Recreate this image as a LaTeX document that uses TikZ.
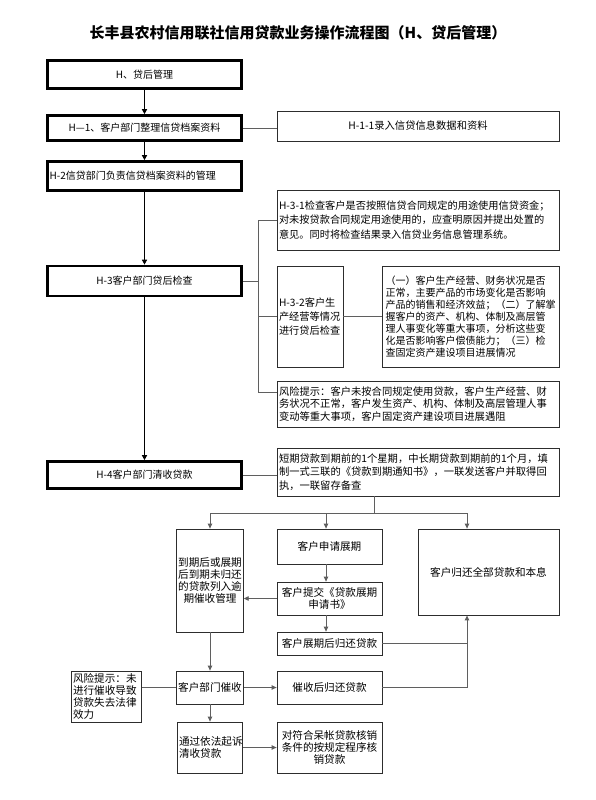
\documentclass[tikz,border=0pt]{standalone}
\usepackage{fontspec}
\setmainfont{Noto Sans CJK SC}
\usetikzlibrary{arrows.meta}
\definecolor{conn}{RGB}{95,95,95}
\definecolor{bord}{RGB}{45,45,45}
\tikzset{
  mainbox/.style={draw=black, line width=2.6pt, minimum width=194pt, inner sep=2pt, font=\fontsize{10}{12}\selectfont},
  thinbox/.style={draw=bord, line width=0.8pt, inner sep=2pt, align=left, font=\fontsize{10.3}{12}\selectfont},
  lowbox/.style={draw=bord, line width=0.8pt, inner sep=1.5pt, align=center, font=\fontsize{10.6}{12.2}\selectfont},
  trunk/.style={line width=1.8pt, -{Triangle[length=5pt,width=5pt]}},
  link/.style={draw=conn, line width=0.9pt},
  arr/.style={link, -{Triangle[length=5pt,width=4.5pt]}},
}
\begin{document}
\begin{tikzpicture}[x=1pt,y=-1pt]
\fill[white] (0,0) rectangle (596,800);
\useasboundingbox (0,0) rectangle (596,800);

\node[font=\bfseries\fontsize{15}{17}\selectfont] (title) at (298,33) {长丰县农村信用联社信用贷款业务操作流程图（H、贷后管理）};

% main column
\node[mainbox, minimum height=28pt] (b1) at (144.5,74.5) {H、贷后管理};
\node[mainbox, minimum height=25pt] (b2) at (144.5,128) {H—1、客户部门整理信贷档案资料};
\node[mainbox, minimum height=29pt, text width=190pt, align=left] (b4) at (144.5,176) {H-2信贷部门负责信贷档案资料的管理};
\node[mainbox, minimum height=30pt] (b6) at (144.5,281) {H-3客户部门贷后检查};
\node[mainbox, minimum height=27pt] (b10) at (144.5,475) {H-4客户部门清收贷款};

% right column
\node[thinbox, minimum width=282pt, minimum height=30pt, align=center] (r1) at (418,126) {H-1-1录入信贷信息数据和资料};
\node[thinbox, text width=278pt, minimum height=60pt, font=\fontsize{10.2}{14.5}\selectfont] (r2) at (418,220) {H-3-1检查客户是否按照信贷合同规定的用途使用信贷资金；\\对未按贷款合同规定用途使用的，应查明原因并提出处置的\\意见。同时将检查结果录入信贷业务信息管理系统。};
\node[thinbox, text width=62pt, minimum height=101pt, font=\fontsize{10.2}{14}\selectfont] (r3) at (310,316.5) {H-3-2客户生\\产经营等情况\\进行贷后检查};
\node[thinbox, text width=173pt, minimum height=101pt, font=\fontsize{10}{11.9}\selectfont] (r4) at (470.5,316.5) {\hspace*{1.5pt}（一）客户生产经营、财务状况是否\\\hspace*{1.5pt}正常，主要产品的市场变化是否影响\\\hspace*{1.5pt}产品的销售和经济效益；（二）了解掌\\\hspace*{1.5pt}握客户的资产、机构、体制及高层管\\\hspace*{1.5pt}理人事变化等重大事项，分析这些变\\\hspace*{1.5pt}化是否影响客户偿债能力；（三）检\\\hspace*{1.5pt}查固定资产建设项目进展情况};
\node[thinbox, text width=278pt, minimum height=46pt, font=\fontsize{10.3}{12.6}\selectfont] (r5) at (418,404) {风险提示：客户未按合同规定使用贷款，客户生产经营、财\\务状况不正常，客户发生资产、机构、体制及高层管理人事\\变动等重大事项，客户固定资产建设项目进展遇阻};
\node[thinbox, text width=278pt, minimum height=48pt, font=\fontsize{10.3}{13.6}\selectfont] (r6) at (418,472) {短期贷款到期前的1个星期，中长期贷款到期前的1个月，填\\制一式三联的《贷款到期通知书》，一联发送客户并取得回\\执，一联留存备查};

% lower part
\node[lowbox, minimum width=66pt, minimum height=103pt] (l1) at (210,580.5) {到期后或展期\\后到期未归还\\的贷款列入逾\\期催收管理};
\node[lowbox, minimum width=105pt, minimum height=35pt] (m1) at (329.5,546.5) {客户申请展期};
\node[lowbox, minimum width=105pt, minimum height=33pt] (m2) at (329.5,598.5) {客户提交《贷款展期\\申请书》};
\node[lowbox, minimum width=105pt, minimum height=23pt] (m3) at (329.5,643.5) {客户展期后归还贷款};
\node[lowbox, minimum width=141pt, minimum height=86pt] (rb) at (488.5,572) {客户归还全部贷款和本息};
\node[lowbox, text width=67pt, align=left, minimum height=51pt] (k1) at (106.5,696.5) {风险提示：未\\进行催收导致\\贷款失去法律\\效力};
\node[lowbox, minimum width=66pt, minimum height=33pt] (l2) at (210,687.5) {客户部门催收};
\node[lowbox, minimum width=105pt, minimum height=33pt] (m4) at (329.5,687.5) {催收后归还贷款};
\node[lowbox, text width=62pt, align=left, minimum height=51pt] (l3) at (210,747.5) {通过依法起诉\\清收贷款};
\node[lowbox, minimum width=105pt, minimum height=51pt] (m5) at (329.5,747.5) {对符合呆帐贷款核销\\条件的按规定程序核\\销贷款};

% trunk
\draw[trunk] (b1.south) -- (b2.north);
\draw[trunk] (b2.south) -- (b4.north);
\draw[trunk] (b4.south) -- (b6.north);
\draw[trunk] (b6.south) -- (b10.north);

% side links
\coordinate (bx) at (258,0);
\coordinate (r5s) at ([yshift=12pt]r5.west);
\draw[link] (r2.west) -- (r2.west -| bx) -- (bx |- r5s) -- (r5s);
\draw[link] (b2.east) -- (b2.east -| r1.west);
\draw[link] (b6.east) -- (b6.east -| bx);
\draw[link] (r3.west) -- (r3.west -| bx);
\draw[link] (r3.east) -- (r4.west);
\draw[link] (b10.east) -- (b10.east -| r6.west);

% lower links
\coordinate (sp) at (374,513);
\coordinate (hl) at (210,513);
\coordinate (mc) at (326,513);
\coordinate (rc) at (467,513);
\draw[link] (r6.south -| sp) -- (sp);
\draw[link] (hl) -- (rc);
\draw[arr] (hl) -- (l1.north);
\draw[arr] (mc) -- (mc |- m1.north);
\draw[arr] (rc) -- (rc |- rb.north);
\draw[arr] (mc |- m1.south) -- (mc |- m2.north);
\draw[arr] (m2.west) -- (m2.west -| l1.east);
\draw[arr] (mc |- m2.south) -- (mc |- m3.north);
\draw[link] (m3.east) -- (m3.east -| rc);
\draw[arr] (m4.east) -| (rc |- rb.south);
\draw[arr] (l1.south) -- (l2.north);
\draw[link] (l2.west) -- (l2.west -| k1.east);
\draw[arr] (l2.east) -- (m4.west);
\draw[arr] (l2.south) -- (l3.north);
\draw[arr] (l3.east) -- (m5.west);
\end{tikzpicture}
\end{document}
